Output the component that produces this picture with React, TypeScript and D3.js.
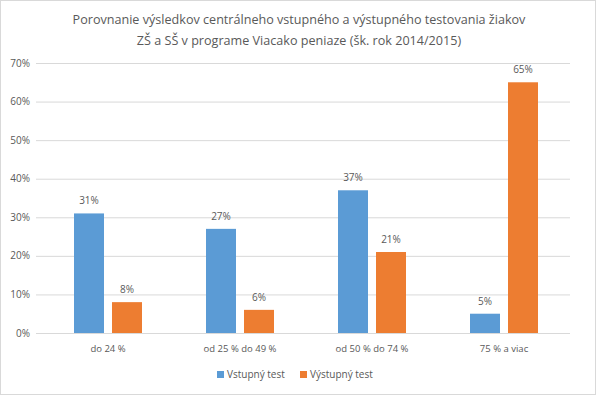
import React from "react";
import * as d3 from "d3";

const categories = ["do 24 %", "od 25 % do 49 %", "od 50 % do 74 %", "75 % a viac"];
const seriesNames = ["Vstupný test", "Výstupný test"];
const vstupny = [31, 27, 37, 5];
const vystupny = [8, 6, 21, 65];
const yTicks = [0, 10, 20, 30, 40, 50, 60, 70];
const colors = ["#5b9bd5", "#ed7d31"];

const W = 596;
const H = 395;
const FONT = "'Open Sans', 'Liberation Sans', sans-serif";
const TEXT = "#595959";

export default function App() {
  const x = d3.scaleBand().domain(categories).range([42, 570]);
  const y = d3.scaleLinear().domain([0, 70]).range([333, 63]);
  const barW = 30;
  const gap = 8;
  const series = [vstupny, vystupny];

  return (
    <svg width={W} height={H} style={{ position: "absolute", left: 0, top: 0, fontFamily: FONT }}>
      <rect x={0.5} y={0.5} width={W - 1} height={H - 1} fill="#fff" stroke="#d9d9d9" />
      <text x={W / 2 + 1} y={24} textAnchor="middle" fontSize={12.6} fill={TEXT}>
        Porovnanie výsledkov centrálneho vstupného a výstupného testovania žiakov
      </text>
      <text x={W / 2 + 1} y={45} textAnchor="middle" fontSize={12.6} fill={TEXT}>
        ZŠ a SŠ v programe Viacako peniaze (šk. rok 2014/2015)
      </text>
      {yTicks.map((t) => (
        <g key={t}>
          <line x1={36} x2={570} y1={y(t) + 0.5} y2={y(t) + 0.5} stroke="#d9d9d9" />
          <text x={30} y={y(t) + 3.5} textAnchor="end" fontSize={10} fill={TEXT}>
            {t}%
          </text>
        </g>
      ))}
      {categories.map((c, i) => {
        const cx = (x(c) as number) + x.bandwidth() / 2;
        return (
          <g key={c}>
            {series.map((s, k) => {
              const bx = k === 0 ? cx - gap / 2 - barW : cx + gap / 2;
              return (
                <g key={k}>
                  <rect x={bx} y={y(s[i])} width={barW} height={y(0) - y(s[i])} fill={colors[k]} />
                  <text x={bx + barW / 2} y={y(s[i]) - 9} textAnchor="middle" fontSize={10} fill={TEXT}>
                    {s[i]}%
                  </text>
                </g>
              );
            })}
            <text x={cx} y={352} textAnchor="middle" fontSize={9.5} fill={TEXT}>
              {c}
            </text>
          </g>
        );
      })}
      {seriesNames.map((n, k) => {
        const lx = k === 0 ? 217 : 300;
        return (
          <g key={n}>
            <rect x={lx} y={371} width={7} height={7} fill={colors[k]} />
            <text x={lx + 10} y={378} fontSize={10} fill={TEXT}>
              {n}
            </text>
          </g>
        );
      })}
    </svg>
  );
}
